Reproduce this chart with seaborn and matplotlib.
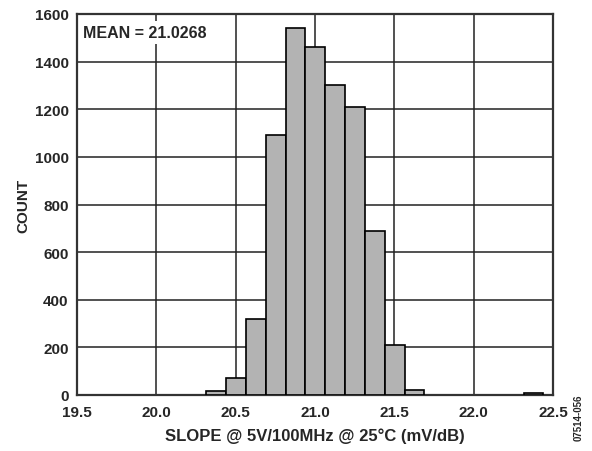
import matplotlib
matplotlib.use("Agg")
import matplotlib.pyplot as plt
import seaborn as sns
import numpy as np
import pandas as pd

# Data
bin_start = 20.315
bin_width = 0.125
bin_lefts = [20.315, 20.440, 20.565, 20.690, 20.815, 20.940, 21.065,
             21.190, 21.315, 21.440, 21.565, 22.315]
counts = [15, 70, 320, 1090, 1540, 1460, 1300, 1210, 690, 210, 20, 10]
x_ticks = [19.5, 20.0, 20.5, 21.0, 21.5, 22.0, 22.5]
y_ticks = [0, 200, 400, 600, 800, 1000, 1200, 1400, 1600]
mean_label = "MEAN = 21.0268"
x_label = "SLOPE @ 5V/100MHz @ 25°C (mV/dB)"
y_label = "COUNT"
fig_code = "07514-056"

sns.set_style("white")
plt.rcParams['font.family'] = ['Liberation Sans', 'DejaVu Sans']

fig = plt.figure(figsize=(5.92, 4.52), dpi=100)
ax = fig.add_axes([77/592, 1-396/452, (553-77)/592, (396-15)/452])

df = pd.DataFrame({"x": [b + bin_width/2 for b in bin_lefts],
                   "count": [float(c) for c in counts]})
edges = [round(bin_start + k*bin_width, 4) for k in range(18)]
sns.histplot(data=df, x="x", weights="count", bins=edges, ax=ax,
             color="#b3b3b3", edgecolor="black", linewidth=1.2, alpha=1.0,
             zorder=3)
for p in ax.patches:
    if p.get_height() == 0:
        p.set_visible(False)

ax.set_xlim(19.5, 22.5)
ax.set_ylim(0, 1600)
ax.set_xticks(x_ticks)
ax.set_xticklabels([f"{t:.1f}" for t in x_ticks], fontweight="bold", fontsize=11)
ax.set_yticks(y_ticks)
ax.set_yticklabels([str(t) for t in y_ticks], fontweight="bold", fontsize=11)
ax.tick_params(axis="x", length=0, pad=7)
ax.tick_params(axis="y", length=0, pad=6)
ax.grid(True, color="#222222", linewidth=1.1, zorder=1)
ax.set_axisbelow(True)
for s in ax.spines.values():
    s.set_color("#333333")
    s.set_linewidth(1.6)
    s.set_visible(True)

ax.set_xlabel(x_label, fontweight="bold", fontsize=12, labelpad=6)
ax.set_ylabel(y_label, fontweight="bold", fontsize=11, labelpad=3)

ax.text(0.013, 0.972, mean_label, transform=ax.transAxes, fontweight="bold",
        fontsize=11.5, va="top", ha="left", zorder=5,
        bbox=dict(facecolor="white", edgecolor="none", pad=3))

fig.text(579/592, 1-418/452, fig_code, rotation=90, fontsize=7,
         fontweight="bold", ha="center", va="center")

fig.savefig("out.png", dpi=100)
